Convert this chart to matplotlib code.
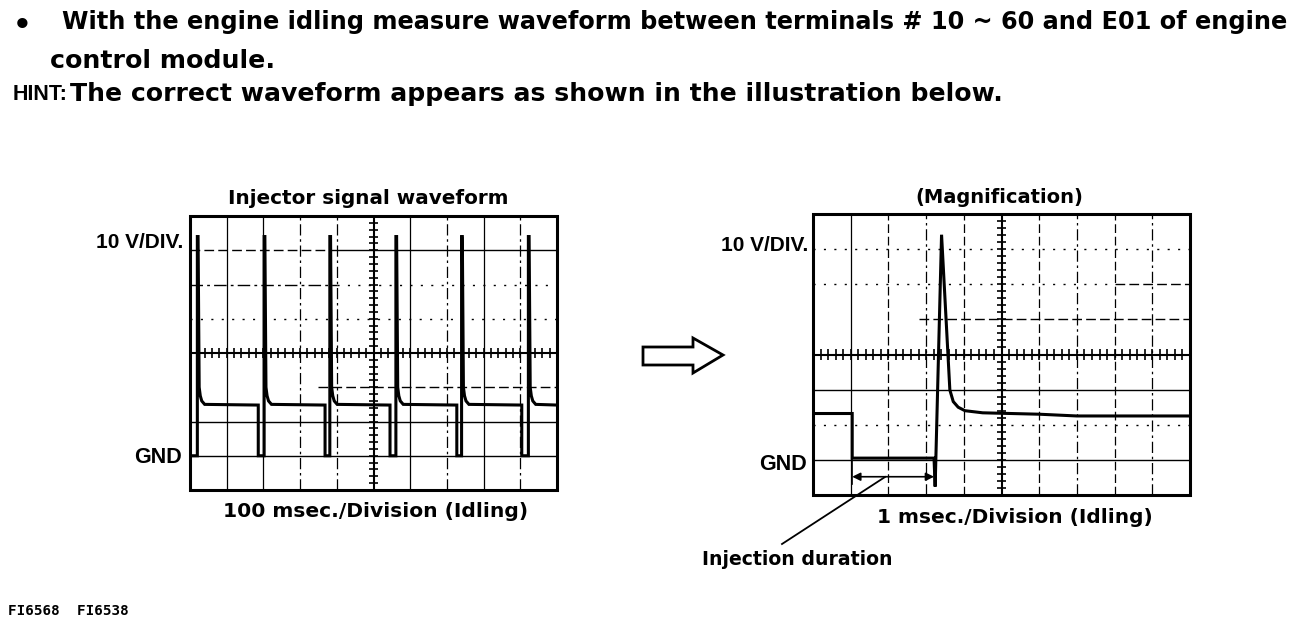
import numpy as np
import matplotlib
matplotlib.use('Agg')
import matplotlib.pyplot as plt
from matplotlib.patches import Polygon, Rectangle

# ---------------- data (scope divisions: x 0..10, y 0..8, GND at 1 div) ----------------
# Left scope: 100 msec./Division
left_fall_x = [0.01, 1.86, 3.68, 5.45, 7.27, 9.04]     # falling edge (injector ON)
left_spike_x = [0.20, 2.02, 3.81, 5.61, 7.40, 9.22]    # injector OFF -> surge spike
left_level = 2.48
left_gnd = 1.0
left_peak = 7.40
left_tail_dx = [0.02, 0.05, 0.08, 0.12, 0.20]
left_tail_y = [7.40, 3.00, 2.75, 2.60, 2.50]

# Right scope: 1 msec./Division (magnification of one pulse)
right_x = [0.0, 1.04, 1.04, 3.21, 3.24, 3.41, 3.63, 3.72, 3.85, 4.03, 4.50, 6.0, 7.0, 10.0]
right_y = [2.32, 2.32, 1.05, 1.05, 0.24, 7.41, 2.99, 2.66, 2.50, 2.40, 2.34, 2.30, 2.25, 2.25]
inj_start, inj_end, inj_y = 1.04, 3.21, 0.52

header1 = "With the engine idling measure waveform between terminals # 10 ~ 60 and E01 of engine"
header2 = "control module."
hint_lbl = "HINT:"
hint_txt = "The correct waveform appears as shown in the illustration below."
left_title = "Injector signal waveform"
right_title = "(Magnification)"
vdiv_lbl = "10 V/DIV."
gnd_lbl = "GND"
left_xlbl = "100 msec./Division (Idling)"
right_xlbl = "1 msec./Division (Idling)"
inj_lbl = "Injection duration"
fig_ids = "FI6568  FI6538"

# ---------------- figure ----------------
W, H = 1296, 620
fig = plt.figure(figsize=(W / 100, H / 100), dpi=100)
fig.patch.set_facecolor('white')
ax0 = fig.add_axes([0, 0, 1, 1])
ax0.set_xlim(0, W)
ax0.set_ylim(H, 0)
ax0.axis('off')

HEAD = 'DejaVu Sans'
LAB = 'Liberation Sans'
fits = []


def txt(x, y, s, size, ha='left', width=None, weight='bold', family=HEAD):
    t = ax0.text(x, y, s, ha=ha, va='baseline', fontsize=size, fontweight=weight,
                 family=family, color='black')
    if width is not None:
        fits.append((t, width))
    return t


SOLID = '-'
DASH = (0, (7, 3))
DASHDOT = (0, (9, 3, 2, 3))
DOT = (0, (1.5, 6))


def scope(rect_px, hspec, vspec):
    x0, y0, x1, y1 = rect_px
    ax = fig.add_axes([x0 / W, 1 - y1 / H, (x1 - x0) / W, (y1 - y0) / H])
    ax.set_xlim(0, 10)
    ax.set_ylim(0, 8)
    ax.axis('off')
    ax.patch.set_visible(False)
    for y, ls, a, b in hspec:
        ax.plot([a, b], [y, y], color='black', lw=1.0, ls=ls, solid_capstyle='butt')
    for x, ls in vspec:
        ax.plot([x, x], [0, 8], color='black', lw=0.9, ls=ls, solid_capstyle='butt')
    # centre graticule with minor ticks
    ax.plot([0, 10], [4, 4], color='black', lw=1.5)
    ax.plot([5, 5], [0, 8], color='black', lw=1.5)
    tx = np.arange(0.2, 10, 0.2)
    ax.vlines(tx, 4 - 0.15, 4 + 0.15, color='black', lw=1.2)
    ty = np.arange(0.2, 8, 0.2)
    ax.hlines(ty, 5 - 0.11, 5 + 0.11, color='black', lw=1.2)
    ax.add_patch(Rectangle((0, 0), 10, 8, fill=False, lw=2.2, ec='black', clip_on=False))
    return ax


# left scope
axL = scope((190, 216, 557, 490),
            [(7, DASH, 0, 4.0), (7, SOLID, 4.0, 10), (6, DASHDOT, 0, 4.0), (6, DOT, 4.0, 10),
             (5, DOT, 0, 10), (3, DASH, 3.5, 10), (2, SOLID, 0, 10), (1, SOLID, 0, 10)],
            [(1, SOLID), (2, SOLID), (3, DASHDOT), (4, DASHDOT), (6, SOLID),
             (7, DASHDOT), (8, SOLID), (9, DASHDOT)])
lx, ly = [0.0], [left_level]
for f, s in zip(left_fall_x, left_spike_x):
    lx += [f, f, s, s]
    ly += [left_level, left_gnd, left_gnd, left_peak]
    lx += [s + d for d in left_tail_dx]
    ly += list(left_tail_y)
lx.append(10.0)
ly.append(left_level)
axL.plot(lx, ly, color='black', lw=2.2, solid_joinstyle='miter')

# right scope
axR = scope((813, 214, 1190, 495),
            [(7, DOT, 0, 10), (6, DOT, 0, 8), (6, DASH, 8, 10), (5, DASH, 2.8, 10),
             (3, SOLID, 0, 10), (2, DOT, 0, 10), (1, SOLID, 0, 10)],
            [(1, SOLID), (2, DASH), (3, DASHDOT), (4, DASH), (6, DASH),
             (7, DASHDOT), (8, DASH), (9, DASHDOT)])
axR.plot(right_x, right_y, color='black', lw=2.2, solid_joinstyle='miter')
axR.plot([inj_start, inj_start], [right_y[2], 0.3], color='black', lw=1.2)
axR.annotate('', xy=(inj_start, inj_y), xytext=(inj_end, inj_y),
             arrowprops=dict(arrowstyle='<|-|>', color='black', lw=1.2,
                             mutation_scale=12, shrinkA=0, shrinkB=0))

# leader line for "Injection duration"
ax0.plot([885, 782], [477, 544], color='black', lw=1.3)

# hollow arrow between the scopes
arrow_pts = [(643, 347), (693, 347), (693, 338), (723, 355), (693, 373), (693, 365), (643, 365)]
ax0.add_patch(Polygon(arrow_pts, closed=True, fc='white', ec='black', lw=2.0, joinstyle='miter'))

# ---------------- texts ----------------
txt(22.5, 34, "\u2022", 21, ha='center')
txt(62, 28.5, header1, 15, width=1218)
txt(50, 68, header2, 15, width=225)
txt(13, 100.5, hint_lbl, 15.5, family=LAB)
txt(70, 100.5, hint_txt, 15, width=933)

txt(368, 204, left_title, 14, ha='center', width=280)
txt(183, 248, vdiv_lbl, 15, ha='right', family=LAB)
txt(182, 463, gnd_lbl, 15.5, ha='right', family=LAB)
txt(375.5, 517, left_xlbl, 14, ha='center', width=305)

txt(999, 203, right_title, 14, ha='center', width=168)
txt(808, 251, vdiv_lbl, 15, ha='right', family=LAB)
txt(807, 470, gnd_lbl, 15.5, ha='right', family=LAB)
txt(1015, 523, right_xlbl, 14, ha='center', width=274)
txt(702, 565, inj_lbl, 14, width=191)

txt(8, 615, fig_ids, 9, width=120, family='DejaVu Sans Mono')

fig.canvas.draw()
r = fig.canvas.get_renderer()
for _ in range(2):
    for t, w in fits:
        cur = t.get_window_extent(r).width
        if cur > 0:
            t.set_fontsize(t.get_fontsize() * w / cur)
    fig.canvas.draw()

fig.savefig('out.png', dpi=100, facecolor='white')
